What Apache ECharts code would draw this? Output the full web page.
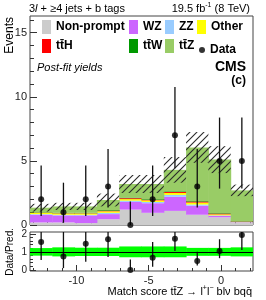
<!DOCTYPE html>
<html><head><meta charset="utf-8">
<script src="https://cdn.jsdelivr.net/npm/echarts@6/dist/echarts.min.js"></script>
<style>html,body{margin:0;padding:0;background:#fff}#c{width:266px;height:300px}</style>
</head><body><div id="c"></div>
<script>
// ---- data ----
const binEdges = [-13.2, -11.66, -10.12, -8.58, -7.04, -5.5, -3.96, -2.42, -0.88, 0.66, 2.2];
const nonPrompt = [0.20, 0.20, 0.15, 0.45, 1.20, 0.95, 1.10, 0.80, 0.60, 0.15];
const wz        = [0.60, 0.55, 0.60, 0.40, 0.60, 0.75, 1.10, 0.70, 0.10, 0.05];
const zz        = [0.05, 0.05, 0.05, 0.10, 0.10, 0.10, 0.15, 0.10, 0.05, 0.02];
const other     = [0.10, 0.10, 0.10, 0.12, 0.12, 0.12, 0.15, 0.15, 0.08, 0.02];
const ttH       = [0.02, 0.02, 0.02, 0.05, 0.07, 0.05, 0.08, 0.08, 0.06, 0.03];
const ttW       = [0.03, 0.03, 0.03, 0.05, 0.05, 0.05, 0.05, 0.05, 0.04, 0.03];
const ttZ       = [0.35, 0.50, 0.50, 0.78, 1.06, 1.18, 1.67, 4.17, 4.17, 2.40];
const uncAbs    = [0.30, 0.28, 0.28, 0.50, 0.70, 0.70, 1.00, 1.20, 1.05, 0.45];
const dataCounts  = [2, 1, 2, 3, 0, 2, 7, 3, 5, 5];
const dataErrLow  = [0.71, 0.17, 0.71, 1.37, 0, 0.71, 4.42, 1.37, 2.84, 2.84];
const dataErrHigh = [4.64, 3.30, 4.64, 5.92, 1.84, 4.64, 10.77, 5.92, 8.38, 8.38];
const ratioValues = [1.55, 0.75, 1.45, 1.70, 0.00, 0.67, 1.72, 0.50, 1.05, 1.94];
const ratioLow    = [0.55, 0.10, 0.45, 0.72, 0.00, 0.17, 1.05, 0.25, 0.65, 1.10];
const ratioHigh   = [3.40, 2.30, 3.20, 3.00, 0.58, 1.55, 2.50, 1.00, 1.70, 3.10];
const ratioBand   = [0.21, 0.25, 0.23, 0.23, 0.30, 0.30, 0.30, 0.22, 0.22, 0.25];
const xMajorTicks = [-10, -5, 0];
const xMinorTicks = [-13, -12, -11, -10, -9, -8, -7, -6, -5, -4, -3, -2, -1, 0, 1, 2];
const yMajorTicks = [0, 5, 10, 15];
const yMinorTicks = [0, 1, 2, 3, 4, 5, 6, 7, 8, 9, 10, 11, 12, 13, 14, 15, 16];
const rMajorTicks = [0, 1, 2];
const rMinorTicks = [0, 0.2, 0.4, 0.6, 0.8, 1, 1.2, 1.4, 1.6, 1.8, 2];

const processes = [
  {name: 'Non-prompt', vals: nonPrompt, color: '#cccccc'},
  {name: 'WZ', vals: wz, color: '#cc66ff'},
  {name: 'ZZ', vals: zz, color: '#99ccff'},
  {name: 'Other', vals: other, color: '#ffff00'},
  {name: 'tt\u0304H', vals: ttH, color: '#ff0000'},
  {name: 'tt\u0304W', vals: ttW, color: '#009900'},
  {name: 'tt\u0304Z', vals: ttZ, color: '#99cc66'}
];

const FONT = '"Liberation Sans", Arial, sans-serif';
const nBins = binEdges.length - 1;
const centers = []; for (let i = 0; i < nBins; i++) centers.push((binEdges[i] + binEdges[i + 1]) / 2);

function rectItem(params, api) {
  const p0 = api.coord([api.value(0), api.value(3)]);
  const p1 = api.coord([api.value(1), api.value(2)]);
  return {type: 'rect', shape: {x: p0[0], y: p0[1], width: p1[0] - p0[0] + 0.5, height: p1[1] - p0[1]},
          style: {fill: api.visual('color')}};
}
function errItem(params, api) {
  const a = api.coord([api.value(0), api.value(1)]);
  const b = api.coord([api.value(0), api.value(2)]);
  return {type: 'line', shape: {x1: a[0], y1: a[1], x2: b[0], y2: b[1]}, style: {stroke: '#111', lineWidth: 1.3}};
}
function hatchPattern() {
  const s = 7, c = document.createElement('canvas'); c.width = s; c.height = s;
  const g = c.getContext('2d'); g.strokeStyle = '#2a2a2a'; g.lineWidth = 1.1;
  g.beginPath();
  g.moveTo(-1, s + 1); g.lineTo(s + 1, -1);
  g.moveTo(-1, 1); g.lineTo(1, -1);
  g.moveTo(s - 1, s + 1); g.lineTo(s + 1, s - 1);
  g.stroke(); return c;
}
const hatch = hatchPattern();

const series = [];
const cum = new Array(nBins).fill(0);
processes.forEach(p => {
  const d = [];
  for (let i = 0; i < nBins; i++) { d.push([binEdges[i], binEdges[i + 1], cum[i], cum[i] + p.vals[i]]); cum[i] += p.vals[i]; }
  series.push({type: 'custom', name: p.name, xAxisIndex: 0, yAxisIndex: 0, renderItem: rectItem,
    itemStyle: {color: p.color}, data: d, z: 2, clip: true});
});
const hatchData = [];
for (let i = 0; i < nBins; i++) hatchData.push([binEdges[i], binEdges[i + 1], cum[i] - uncAbs[i], cum[i] + uncAbs[i]]);
series.push({type: 'custom', name: 'unc', xAxisIndex: 0, yAxisIndex: 0, z: 3, clip: true,
  renderItem: function (params, api) {
    const p0 = api.coord([api.value(0), api.value(3)]);
    const p1 = api.coord([api.value(1), api.value(2)]);
    return {type: 'rect', shape: {x: p0[0], y: p0[1], width: p1[0] - p0[0], height: p1[1] - p0[1]},
            style: {fill: {image: hatch, repeat: 'repeat'}}};
  }, data: hatchData});
const errData = [], ptData = [];
for (let i = 0; i < nBins; i++) { errData.push([centers[i], dataErrLow[i], dataErrHigh[i]]); ptData.push([centers[i], dataCounts[i]]); }
series.push({type: 'custom', name: 'dataErr', xAxisIndex: 0, yAxisIndex: 0, z: 4, clip: true, renderItem: errItem, data: errData});
series.push({type: 'scatter', name: 'Data', xAxisIndex: 0, yAxisIndex: 0, z: 5, symbol: 'circle', symbolSize: 6,
  itemStyle: {color: '#000'}, data: ptData});

// ratio panel
const bandData = [];
for (let i = 0; i < nBins; i++) bandData.push([binEdges[i], binEdges[i + 1], 1 - ratioBand[i], 1 + ratioBand[i]]);
series.push({type: 'custom', name: 'band', xAxisIndex: 2, yAxisIndex: 2, z: 2, clip: true, renderItem: rectItem,
  itemStyle: {color: '#00ff00'}, data: bandData,
  markLine: {silent: true, symbol: 'none', label: {show: false}, lineStyle: {color: '#000', width: 1, type: 'solid'},
    data: [{yAxis: 1}], animation: false}});
const rErr = [], rPt = [];
for (let i = 0; i < nBins; i++) { rErr.push([centers[i], ratioLow[i], ratioHigh[i]]); rPt.push([centers[i], ratioValues[i]]); }
series.push({type: 'custom', name: 'ratioErr', xAxisIndex: 2, yAxisIndex: 2, z: 4, clip: true, renderItem: errItem, data: rErr});
series.push({type: 'scatter', name: 'ratioPts', xAxisIndex: 2, yAxisIndex: 2, z: 5, symbol: 'circle', symbolSize: 6,
  itemStyle: {color: '#000'}, data: rPt});

function xAx(grid, ticks, len, labels) {
  return {type: 'value', gridIndex: grid, position: 'bottom', offset: 0, min: -13.2, max: 2.2,
    axisLine: {show: false, onZero: false}, splitLine: {show: false},
    axisTick: {show: true, inside: true, length: len, customValues: ticks, lineStyle: {color: '#333'}},
    axisLabel: labels ? {show: true, customValues: ticks, color: '#222', fontSize: 11, fontFamily: FONT, margin: 4} : {show: false}};
}
function yAx(grid, min, max, ticks, len, labels, fs) {
  return {type: 'value', gridIndex: grid, position: 'left', offset: 0, min: min, max: max,
    axisLine: {show: false, onZero: false}, splitLine: {show: false},
    axisTick: {show: true, inside: true, length: len, customValues: ticks, lineStyle: {color: '#333'}},
    axisLabel: labels ? {show: true, customValues: ticks, color: '#222', fontSize: fs, fontFamily: FONT, margin: 3} : {show: false}};
}

const legendText = {fontSize: 12, fontWeight: 'bold', fontFamily: FONT, color: '#000'};
function leg(left, top, names) {
  return {left: left, top: top, orient: 'vertical', data: names, icon: 'rect', itemWidth: 9, itemHeight: 14,
    itemGap: 5, padding: 0, textStyle: legendText, selectedMode: false};
}

const option = {
  animation: false,
  grid: [
    {left: 30, top: 16, width: 223, height: 209, show: true, borderColor: '#444', borderWidth: 1, backgroundColor: 'transparent'},
    {left: 30, top: 232, width: 223, height: 39, show: true, borderColor: '#444', borderWidth: 1, backgroundColor: 'transparent'}
  ],
  xAxis: [xAx(0, xMajorTicks, 6, false), xAx(0, xMinorTicks, 3, false), xAx(1, xMajorTicks, 6, true), xAx(1, xMinorTicks, 3, false)],
  yAxis: [
    yAx(0, 0, 16.3, yMajorTicks, 7, true, 11), yAx(0, 0, 16.3, yMinorTicks, 4, false),
    yAx(1, -0.06, 2.1, rMajorTicks, 6, true, 10), yAx(1, -0.06, 2.1, rMinorTicks, 3, false)
  ],
  legend: [
    leg(42, 20, ['Non-prompt', 'tt\u0304H']),
    leg(129, 20, ['WZ', 'tt\u0304W']),
    leg(165, 20, ['ZZ', 'tt\u0304Z']),
    leg(197, 20, ['Other']),
    {left: 199, top: 44, data: ['Data'], icon: 'circle', itemWidth: 6, itemHeight: 6, padding: 0, textStyle: legendText, selectedMode: false}
  ],
  graphic: [
    {type: 'text', x: 29, y: 9, style: {text: '3{i|l} + \u22654 jets + b tags', fontSize: 11, fontFamily: FONT, fill: '#000',
      verticalAlign: 'middle', rich: {i: {fontStyle: 'italic', fontSize: 11, fontFamily: FONT}}}},
    {type: 'text', x: 250, y: 2, style: {text: '{a|19.5 fb}{s|-1}{a| (8 TeV)}', align: 'right', verticalAlign: 'top', fill: '#000',
      rich: {a: {fontSize: 11, fontFamily: FONT, lineHeight: 14}, s: {fontSize: 7, fontFamily: FONT, verticalAlign: 'top', lineHeight: 8}}}},
    {type: 'text', x: 10, y: 17, rotation: Math.PI / 2, style: {text: 'Events', fontSize: 12, fontFamily: FONT, fill: '#000', align: 'right', verticalAlign: 'middle'}},
    {type: 'text', x: 10, y: 228, rotation: Math.PI / 2, style: {text: 'Data/Pred.', fontSize: 10, fontFamily: FONT, fill: '#000', align: 'right', verticalAlign: 'middle'}},
    {type: 'text', x: 37, y: 68, style: {text: 'Post-fit yields', fontSize: 11, fontStyle: 'italic', fontFamily: FONT, fill: '#000', verticalAlign: 'middle'}},
    {type: 'text', x: 246, y: 67, style: {text: 'CMS', fontSize: 14, fontWeight: 'bold', fontFamily: FONT, fill: '#000', align: 'right', verticalAlign: 'middle'}},
    {type: 'text', x: 246, y: 81, style: {text: '(c)', fontSize: 12, fontWeight: 'bold', fontFamily: FONT, fill: '#000', align: 'right', verticalAlign: 'middle'}},
    {type: 'text', x: 252, y: 285, style: {text: '{a|Match score tt\u0304Z \u2192 l}{s|+}{a|l}{s|\u2212}{a| bl\u03bd bqq\u0304}', align: 'right', verticalAlign: 'top', fill: '#000',
      rich: {a: {fontSize: 11, fontFamily: FONT, lineHeight: 14}, s: {fontSize: 7, fontFamily: FONT, verticalAlign: 'top', lineHeight: 8}}}}
  ],
  series: series
};
const chart = echarts.init(document.getElementById('c'), null, {renderer: 'canvas'});
chart.setOption(option);
</script></body></html>
